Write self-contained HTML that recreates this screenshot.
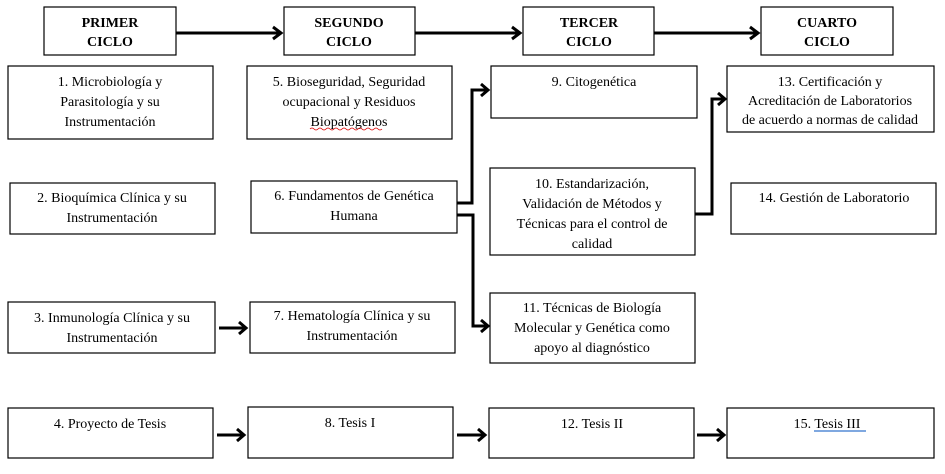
<!DOCTYPE html>
<html><head><meta charset="utf-8"><style>
html,body{margin:0;padding:0;background:#fff;}
svg{display:block;}
text{font-family:"Liberation Serif",serif;font-size:14px;fill:#000;}
.h{font-weight:bold;font-size:14px;}
rect{fill:#fff;stroke:#000;stroke-width:1.2;}
.c{fill:none;stroke:#000;stroke-width:3;}
.a{fill:none;stroke:#000;stroke-width:3;}
</style></head><body>
<svg width="945" height="474" viewBox="0 0 945 474" xmlns="http://www.w3.org/2000/svg">
<defs>
<marker id="ar" markerWidth="6" markerHeight="6" refX="4.5" refY="3" orient="auto" markerUnits="userSpaceOnUse" viewBox="0 0 6 6">
</marker>
</defs>
<!-- headers -->
<rect x="44" y="7" width="132" height="48"/>
<text class="h" x="110" y="27" text-anchor="middle">PRIMER</text>
<text class="h" x="110" y="46" text-anchor="middle">CICLO</text>
<rect x="284" y="7" width="131" height="48"/>
<text class="h" x="349" y="27" text-anchor="middle">SEGUNDO</text>
<text class="h" x="349" y="46" text-anchor="middle">CICLO</text>
<rect x="523" y="7" width="131" height="48"/>
<text class="h" x="589" y="27" text-anchor="middle">TERCER</text>
<text class="h" x="589" y="46" text-anchor="middle">CICLO</text>
<rect x="761" y="7" width="132" height="48"/>
<text class="h" x="827" y="27" text-anchor="middle">CUARTO</text>
<text class="h" x="827" y="46" text-anchor="middle">CICLO</text>
<!-- header arrows -->
<path class="c" d="M176 33 H280"/><path class="a" d="M273 27 L281 33 L273 39"/>
<path class="c" d="M415 33 H519"/><path class="a" d="M512 27 L520 33 L512 39"/>
<path class="c" d="M654 33 H757"/><path class="a" d="M750 27 L758 33 L750 39"/>

<!-- row1 -->
<rect x="8" y="66" width="205" height="73"/>
<text x="110" y="86" text-anchor="middle">1. Microbiología y</text>
<text x="110" y="106" text-anchor="middle">Parasitología y su</text>
<text x="110" y="126" text-anchor="middle">Instrumentación</text>
<rect x="247" y="66" width="205" height="73"/>
<text x="349" y="86" text-anchor="middle">5. Bioseguridad, Seguridad</text>
<text x="349" y="106" text-anchor="middle">ocupacional y Residuos</text>
<text x="349" y="126" text-anchor="middle">Biopatógenos</text>
<path d="M310 129 q2 -2 4 0 t4 0 t4 0 t4 0 t4 0 t4 0 t4 0 t4 0 t4 0 t4 0 t4 0 t4 0 t4 0 t4 0 t4 0 t4 0 t4 0 t4 0" stroke="#d00" stroke-width="0.8" fill="none"/>
<rect x="491" y="66" width="206" height="52"/>
<text x="594" y="86" text-anchor="middle">9. Citogenética</text>
<rect x="727" y="66" width="207" height="66"/>
<text x="830" y="86" text-anchor="middle">13. Certificación y</text>
<text x="830" y="105" text-anchor="middle">Acreditación de Laboratorios</text>
<text x="830" y="124" text-anchor="middle">de acuerdo a normas de calidad</text>

<!-- row2 -->
<rect x="10" y="183" width="205" height="51"/>
<text x="112" y="202" text-anchor="middle">2. Bioquímica Clínica y su</text>
<text x="112" y="222" text-anchor="middle">Instrumentación</text>
<rect x="251" y="181" width="206" height="52"/>
<text x="354" y="200" text-anchor="middle">6. Fundamentos de Genética</text>
<text x="354" y="220" text-anchor="middle">Humana</text>
<rect x="490" y="168" width="205" height="87"/>
<text x="592" y="188" text-anchor="middle">10. Estandarización,</text>
<text x="592" y="208" text-anchor="middle">Validación de Métodos y</text>
<text x="592" y="228" text-anchor="middle">Técnicas para el control de</text>
<text x="592" y="248" text-anchor="middle">calidad</text>
<rect x="731" y="183" width="205" height="51"/>
<text x="834" y="202" text-anchor="middle">14. Gestión de Laboratorio</text>

<!-- connectors -->
<path class="c" d="M457 203 H472 V90 H486"/><path class="a" d="M481 84 L488 90 L481 96"/>
<path class="c" d="M457 215 H473 V326 H487"/><path class="a" d="M481 320 L488 326 L481 332"/>
<path class="c" d="M695 214 H712 V99 H724"/><path class="a" d="M718 93 L725 99 L718 105"/>

<!-- row3 -->
<rect x="8" y="302" width="207" height="51"/>
<text x="112" y="322" text-anchor="middle">3. Inmunología Clínica y su</text>
<text x="112" y="342" text-anchor="middle">Instrumentación</text>
<path class="c" d="M219 328 H245"/><path class="a" d="M239 322 L246 328 L239 334"/>
<rect x="250" y="302" width="205" height="51"/>
<text x="352" y="320" text-anchor="middle">7. Hematología Clínica y su</text>
<text x="352" y="340" text-anchor="middle">Instrumentación</text>
<rect x="490" y="293" width="205" height="70"/>
<text x="592" y="312" text-anchor="middle">11. Técnicas de Biología</text>
<text x="592" y="332" text-anchor="middle">Molecular y Genética como</text>
<text x="592" y="352" text-anchor="middle">apoyo al diagnóstico</text>

<!-- row4 -->
<rect x="8" y="408" width="205" height="50"/>
<text x="110" y="428" text-anchor="middle">4. Proyecto de Tesis</text>
<path class="c" d="M217 435 H243"/><path class="a" d="M237 429 L244 435 L237 441"/>
<rect x="248" y="407" width="205" height="51"/>
<text x="350" y="427" text-anchor="middle">8. Tesis I</text>
<path class="c" d="M457 435 H484"/><path class="a" d="M478 429 L485 435 L478 441"/>
<rect x="489" y="408" width="205" height="50"/>
<text x="592" y="428" text-anchor="middle">12. Tesis II</text>
<path class="c" d="M697 435 H723"/><path class="a" d="M717 429 L724 435 L717 441"/>
<rect x="727" y="408" width="207" height="50"/>
<text x="827" y="428" text-anchor="middle">15. Tesis  III</text>
<line x1="814" y1="431" x2="866" y2="431" stroke="#7fa8e0" stroke-width="2"/>
</svg>
</body></html>
